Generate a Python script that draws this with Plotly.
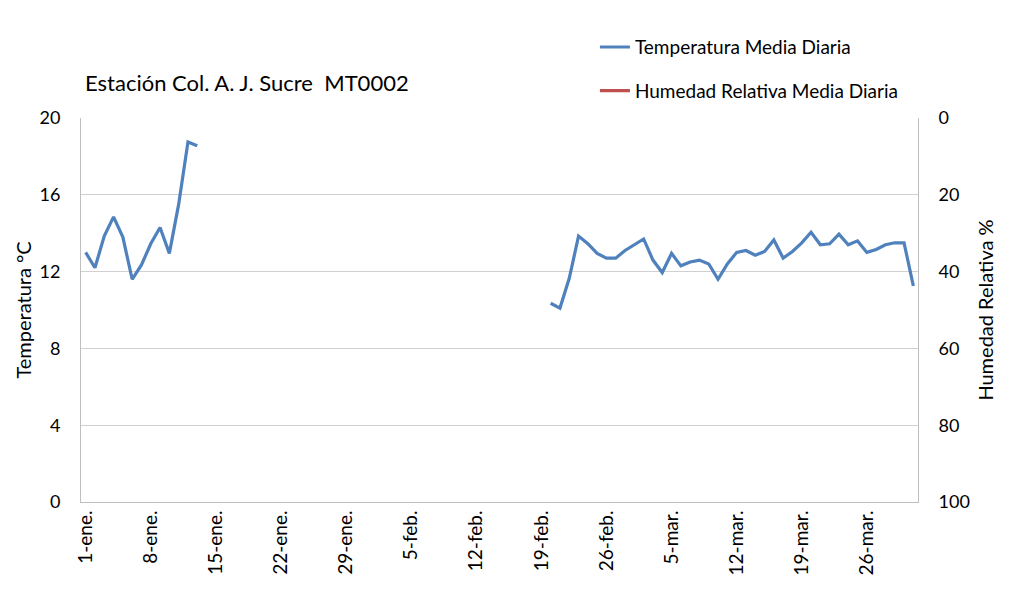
import pandas as pd
import plotly.graph_objects as go

# 1-ene to 31-mar, one point per day
dates = pd.date_range("2013-01-01", "2013-03-31", freq="D")

# temperatura media diaria, two measured runs (gap between them has no data)
temp_ene = [13.0, 12.2, 13.85, 14.85, 13.8, 11.6, 12.35, 13.45, 14.3, 12.95,
            15.5, 18.75, 18.55]
temp_feb_mar = [10.35, 10.1, 11.65, 13.85, 13.45, 12.95, 12.7, 12.7, 13.1, 13.4,
                13.7, 12.6, 11.95, 12.95, 12.3, 12.5, 12.6, 12.4, 11.6, 12.4,
                13.0, 13.1, 12.85, 13.05, 13.65, 12.7, 13.05, 13.5, 14.05, 13.4,
                13.45, 13.95, 13.4, 13.6, 13.0, 13.15, 13.4, 13.5, 13.5, 11.25]
n_gap = len(dates) - len(temp_ene) - len(temp_feb_mar)
temperatura = temp_ene + [None] * n_gap + temp_feb_mar

# humedad relativa: no values recorded in this period
humedad = [None] * len(dates)

tick_dates = dates[::7]
tick_text = ["1-ene.", "8-ene.", "15-ene.", "22-ene.", "29-ene.", "5-feb.", "12-feb.",
             "19-feb.", "26-feb.", "5-mar.", "12-mar.", "19-mar.", "26-mar."]

FONT = "Lato, sans-serif"

fig = go.Figure()
fig.add_trace(go.Scatter(x=dates, y=temperatura, mode="lines",
                         name="Temperatura Media Diaria", legendgroup="t",
                         line=dict(color="#4F81BD", width=3.2), connectgaps=False))
fig.add_trace(go.Scatter(x=dates, y=humedad, mode="lines", yaxis="y2",
                         name="Humedad Relativa Media Diaria", legendgroup="h",
                         line=dict(color="#C0504D", width=3.2)))

# page body adds an 8px offset, so the figure is sized to fit inside it
fig.update_layout(
    width=1001, height=598,
    margin=dict(l=73, r=91, t=110, b=104),
    paper_bgcolor="white", plot_bgcolor="white",
    font=dict(family=FONT, size=17, color="black"),
    title=dict(text="Estación Col. A. J. Sucre  MT0002", x=77 / 1001, xanchor="left",
               y=1 - 75 / 598, yanchor="middle", yref="container",
               font=dict(family=FONT, size=22, color="black")),
    legend=dict(x=0.614, y=1.234, xanchor="left", yanchor="top",
                traceorder="grouped", tracegroupgap=16,
                font=dict(family=FONT, size=19), bgcolor="rgba(0,0,0,0)"),
    xaxis=dict(range=[dates[0] - pd.Timedelta(hours=12), dates[-1] + pd.Timedelta(hours=12)],
               tickvals=tick_dates, ticktext=tick_text, tickangle=-90,
               showgrid=False, showline=True, linecolor="#BFBFBF", linewidth=1,
               ticks="", tickfont=dict(size=19)),
    yaxis=dict(title=dict(text="Temperatura °C", standoff=2), range=[0, 20],
               tickvals=[0, 4, 8, 12, 16, 20], showgrid=True, gridcolor="#D0D0D0",
               zeroline=False, showline=True, linecolor="#BFBFBF", linewidth=1,
               ticks="", ticklabelstandoff=16, tickfont=dict(size=18)),
    yaxis2=dict(title=dict(text="Humedad Relativa %", standoff=10), overlaying="y",
                side="right", range=[100, 0], tickvals=[0, 20, 40, 60, 80, 100],
                showgrid=False, zeroline=False, showline=True, linecolor="#BFBFBF",
                linewidth=1, ticks="", ticklabelstandoff=16, tickfont=dict(size=18)),
)

fig.write_html("out.html")
